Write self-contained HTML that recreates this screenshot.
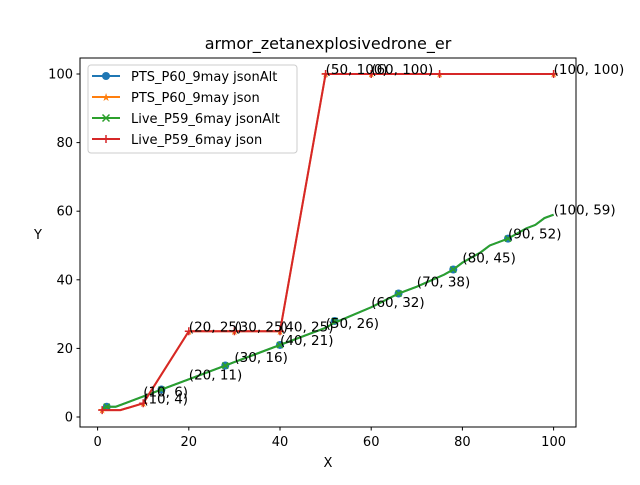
<!DOCTYPE html>
<html><head><meta charset="utf-8"><style>
body{margin:0;background:#fff}
svg text{font-family:"DejaVu Sans","Liberation Sans",sans-serif;fill:#000}
</style></head><body>
<svg id="chart" width="640" height="480" xmlns="http://www.w3.org/2000/svg">
<rect width="640" height="480" fill="#fff"/>
<text x="328" y="49" font-size="16" text-anchor="middle">armor_zetanexplosivedrone_er</text>
<g id="plot"></g>
<rect x="80" y="58" width="496" height="369" fill="none" stroke="#000" stroke-width="1"/>
<g id="ticks"></g>
<text x="328" y="467" font-size="13" text-anchor="middle">X</text>
<text x="38" y="239" font-size="13" text-anchor="middle">Y</text>
<g>
<rect x="88" y="65" width="209" height="88" rx="3" fill="#fff" fill-opacity="0.8" stroke="#ccc"/>
<g><line x1="92" y1="76" x2="120" y2="76" stroke="#1f77b4" stroke-width="2"/><circle cx="106" cy="76" r="4" fill="#1f77b4"/><text x="131" y="81" font-size="13">PTS_P60_9may jsonAlt</text></g>
<g><line x1="92" y1="97" x2="120" y2="97" stroke="#ff7f0e" stroke-width="2"/><text x="106" y="101" font-size="11" text-anchor="middle" style="fill:#ff7f0e">★</text><text x="131" y="102" font-size="13">PTS_P60_9may json</text></g>
<g><line x1="92" y1="118" x2="120" y2="118" stroke="#2ca02c" stroke-width="2"/><path d="M102.5 114.5l7 7M109.5 114.5l-7 7" stroke="#2ca02c" stroke-width="1.5"/><text x="131" y="123" font-size="13">Live_P59_6may jsonAlt</text></g>
<g><line x1="92" y1="139" x2="120" y2="139" stroke="#d62728" stroke-width="2"/><path d="M106 135v8M102 139h8" stroke="#d62728" stroke-width="1.5"/><text x="131" y="144" font-size="13">Live_P59_6may json</text></g>
</g>
</svg>
<script>
const xTicks=[0,20,40,60,80,100];
const yTicks=[0,20,40,60,80,100];
const blueX=[2,14,28,40,52,66,78,90];
const blueY=[3,8,15,21,28,36,43,52];
const greenX=[1,2,4,10,14,20,28,30,40,50,52,60,66,70,76,78,80,84,86,90,94,96,98,100];
const greenY=[2.5,3,3,6,8,11,15,16,21,26,27.5,32,36,38,41.5,43,45,48,50,52,55,56,58,59];
const redX=[1,5,10,20,30,40,50,60,75,100];
const redY=[2,2,4,25,25,25,100,100,100,100];
const markX=[1,10,20,30,40,50,60,75,100];
const markY=[2,4,25,25,25,100,100,100,100];
const labelX=[10,20,30,40,50,60,70,80,90,100,10,20,30,40,50,60,100];
const labelY=[6,11,16,21,26,32,38,45,52,59,4,25,25,25,100,100,100];
const sx=v=>97.6+v*4.56, sy=v=>417-v*3.43;
const NS="http://www.w3.org/2000/svg";
const plot=document.getElementById('plot'), ticks=document.getElementById('ticks');
function mk(tag,attrs,parent){const e=document.createElementNS(NS,tag);for(const k in attrs)e.setAttribute(k,attrs[k]);parent.appendChild(e);return e;}
xTicks.forEach(t=>{
 const l=mk('line',{x1:sx(t),x2:sx(t),y1:427,y2:430.5,stroke:'#000'},ticks);
 
 
 const tx=mk('text',{x:sx(t),y:446,'font-size':13,'text-anchor':'middle'},ticks);tx.textContent=t;
 
 
});
yTicks.forEach(t=>{
 const l=mk('line',{x1:76.5,x2:80,y1:sy(t),y2:sy(t),stroke:'#000'},ticks);
 
 
 const tx=mk('text',{x:73,y:sy(t)+4.5,'font-size':13,'text-anchor':'end'},ticks);tx.textContent=t;
 
 
});
function line(xs,ys,color,name){
 const p=mk('polyline',{points:xs.map((x,i)=>sx(x)+','+sy(ys[i])).join(' '),fill:'none',stroke:color,'stroke-width':2},plot);
 
 
}
line(greenX,greenY,'#1f77b4','series-pts-jsonalt');
blueX.forEach((x,i)=>{const c=mk('circle',{cx:sx(x),cy:sy(blueY[i]),r:4,fill:'#1f77b4'},plot);
 
 });
line(redX,redY,'#ff7f0e','series-pts-json');
markX.forEach((x,i)=>{const t=mk('text',{x:sx(x),y:sy(markY[i])+3.5,'font-size':10,'text-anchor':'middle',style:'fill:#ff7f0e'},plot);t.textContent='★';
 
 });
line(greenX,greenY,'#2ca02c','series-live-jsonalt');
blueX.forEach((x,i)=>{const X=sx(x),Y=sy(blueY[i]);const p=mk('path',{d:`M${X-3} ${Y-3}l6 6M${X+3} ${Y-3}l-6 6`,stroke:'#2ca02c','stroke-width':1.5},plot);
 
 });
line(redX,redY,'#d62728','series-live-json');
markX.forEach((x,i)=>{const X=sx(x),Y=sy(markY[i]);const p=mk('path',{d:`M${X} ${Y-4}v8M${X-4} ${Y}h8`,stroke:'#d62728','stroke-width':1.5},plot);
 
 });
labelX.forEach((x,i)=>{const t=mk('text',{x:sx(x),y:sy(labelY[i]),'font-size':13.5},plot);t.textContent='('+x+', '+labelY[i]+')';
 
 });
</script>
</body></html>
